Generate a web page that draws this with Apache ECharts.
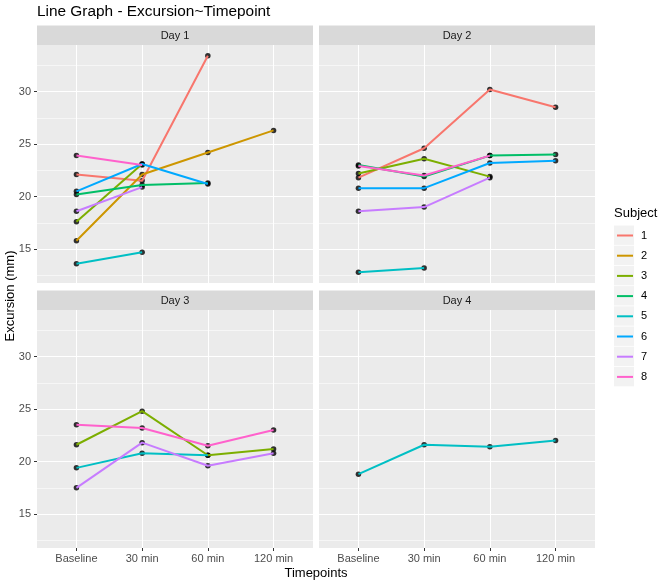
<!DOCTYPE html>
<html>
<head>
<meta charset="utf-8">
<script src="https://cdn.jsdelivr.net/npm/echarts@6/dist/echarts.min.js"></script>
<style>html,body{margin:0;padding:0;background:#fff}#c{width:660px;height:584px}</style>
</head>
<body>
<div id="c"></div>
<script>
// ---- data ----
const timepoints = ['Baseline', '30 min', '60 min', '120 min'];
const days = ['Day 1', 'Day 2', 'Day 3', 'Day 4'];
const subjects = ['1', '2', '3', '4', '5', '6', '7', '8'];
const yTickValues = [15, 20, 25, 30];
const subjectColors = ['#F8766D', '#CD9600', '#7CAE00', '#00BE67', '#00BFC4', '#00A9FF', '#C77CFF', '#FF61CC'];

// values per subject (rows) at each timepoint (columns); null = not measured
const day1Values = [
  [22.1, 21.5, 33.4, null],
  [15.8, 22.1, 24.2, 26.3],
  [17.6, 23.1, null, null],
  [20.2, 21.1, 21.3, null],
  [13.6, 14.7, null, null],
  [20.5, 23.1, 21.2, null],
  [18.6, 20.9, null, null],
  [23.9, 23.0, null, null]
];
const day2Values = [
  [21.8, 24.6, 30.2, 28.5],
  null,
  [22.2, 23.6, 21.9, null],
  [23.0, 21.9, 23.9, 24.0],
  [12.8, 13.2, null, null],
  [20.8, 20.8, 23.2, 23.4],
  [18.6, 19.0, 21.8, null],
  [22.9, 22.0, 23.9, null]
];
const day3Values = [
  null,
  null,
  [21.6, 24.8, 20.6, 21.2],
  null,
  [19.4, 20.8, 20.6, null],
  null,
  [17.5, 21.8, 19.6, 20.8],
  [23.5, 23.2, 21.5, 23.0]
];
const day4Values = [
  null,
  null,
  null,
  null,
  [18.8, 21.6, 21.4, 22.0],
  null,
  null,
  null
];
const dayValues = [day1Values, day2Values, day3Values, day4Values];

// ---- scales (ggplot-like expansion) ----
const allVals = [];
dayValues.forEach(d => d.forEach(r => r && r.forEach(v => { if (v != null) allVals.push(v); })));
const dMin = Math.min(...allVals), dMax = Math.max(...allVals);
const yMin = dMin - 0.05 * (dMax - dMin);
const yMax = dMax + 0.05 * (dMax - dMin);
const xMin = 1 - 0.6, xMax = timepoints.length + 0.6;
const xTickValues = timepoints.map((t, i) => i + 1);

const FONT = 'Liberation Sans, Arial, sans-serif';
const panels = [
  { left: 37, top: 45, w: 276, h: 238, leftCol: true, bottomRow: false },
  { left: 319, top: 45, w: 276, h: 238, leftCol: false, bottomRow: false },
  { left: 37, top: 310, w: 276, h: 238, leftCol: true, bottomRow: true },
  { left: 319, top: 310, w: 276, h: 238, leftCol: false, bottomRow: true }
];

const grid = [], xAxis = [], yAxis = [], series = [], graphic = [];
panels.forEach((p, i) => {
  grid.push({ left: p.left, top: p.top, width: p.w, height: p.h, show: true, backgroundColor: '#EBEBEB', borderWidth: 0 });
  xAxis.push({
    type: 'value', gridIndex: i, min: xMin, max: xMax,
    axisLine: { show: false },
    axisTick: { show: p.bottomRow, length: 3, lineStyle: { color: '#333333', width: 1 }, customValues: xTickValues },
    axisLabel: {
      show: p.bottomRow, customValues: xTickValues, margin: 5, fontSize: 11, color: '#4D4D4D', fontFamily: FONT,
      formatter: v => { const k = Math.round(v); return timepoints[k - 1] || ''; }
    },
    splitLine: { show: true, lineStyle: { color: '#FFFFFF', width: 1.1 } }
  });
  yAxis.push({
    type: 'value', gridIndex: i, min: yMin, max: yMax,
    axisLine: { show: false },
    axisTick: { show: p.leftCol, length: 3, lineStyle: { color: '#333333', width: 1 }, customValues: yTickValues },
    axisLabel: { show: p.leftCol, customValues: yTickValues, margin: 6, fontSize: 11, color: '#4D4D4D', fontFamily: FONT },
    splitLine: { show: true, lineStyle: { color: '#FFFFFF', width: 1.1 } },
    minorTick: { show: false, splitNumber: 2 },
    minorSplitLine: { show: true, lineStyle: { color: '#FFFFFF', width: 0.55 } }
  });
  // strip
  graphic.push({ type: 'rect', shape: { x: p.left, y: p.top - 19.5, width: p.w, height: 19.5 }, style: { fill: '#D9D9D9' }, silent: true });
  graphic.push({ type: 'text', x: p.left + p.w / 2, y: p.top - 9.5, style: { text: days[i], fill: '#1A1A1A', font: '11px ' + FONT, align: 'center', verticalAlign: 'middle' }, silent: true });

  const rows = dayValues[i];
  const pts = [];
  rows.forEach((r, s) => {
    if (!r) return;
    const data = [];
    r.forEach((v, t) => { if (v != null) { data.push([t + 1, v]); pts.push([t + 1, v]); } });
    series.push({
      type: 'line', name: subjects[s], xAxisIndex: i, yAxisIndex: i, data,
      symbol: 'none', z: 3, color: subjectColors[s],
      lineStyle: { width: 2, color: subjectColors[s] }, animation: false
    });
  });
  series.push({
    type: 'scatter', name: 'pts' + i, xAxisIndex: i, yAxisIndex: i, data: pts,
    symbolSize: 5.5, itemStyle: { color: '#000000' }, z: 2, animation: false, silent: true
  });
});

// legend key backgrounds and titles
subjects.forEach((s, k) => {
  graphic.push({ type: 'rect', shape: { x: 614, y: 225.5 + k * 20.2, width: 20, height: 19.4 }, style: { fill: '#F2F2F2' }, silent: true });
});
graphic.push({ type: 'text', x: 614, y: 213, style: { text: 'Subject', fill: '#000000', font: '13px ' + FONT, verticalAlign: 'middle' }, silent: true });
graphic.push({ type: 'text', x: 10, y: 296, rotation: Math.PI / 2, style: { text: 'Excursion (mm)', fill: '#000000', font: '13px ' + FONT, align: 'center', verticalAlign: 'middle' }, silent: true });
graphic.push({ type: 'text', x: 316, y: 573, style: { text: 'Timepoints', fill: '#000000', font: '13px ' + FONT, align: 'center', verticalAlign: 'middle' }, silent: true });

const chart = echarts.init(document.getElementById('c'), null, { renderer: 'canvas' });
chart.setOption({
  animation: false,
  backgroundColor: '#FFFFFF',
  title: { text: 'Line Graph - Excursion~Timepoint', left: 37, top: 4, padding: 0, textStyle: { fontSize: 15.4, fontWeight: 'normal', color: '#000000', fontFamily: FONT } },
  grid, xAxis, yAxis, series, graphic,
  legend: {
    data: subjects, orient: 'vertical', left: 616, top: 227.5, padding: 0,
    itemWidth: 16, itemHeight: 20, itemGap: 4.2,
    itemStyle: { opacity: 0 },
    lineStyle: { width: 2, opacity: 1 },
    textStyle: { fontSize: 11, color: '#000000', fontFamily: FONT, padding: [0, 0, 0, 3] },
    selectedMode: false
  }
});
</script>
</body>
</html>
